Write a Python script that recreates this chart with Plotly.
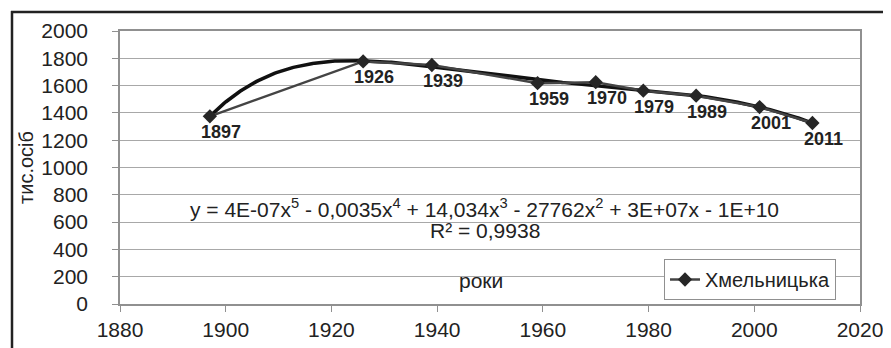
import numpy as np
import plotly.graph_objects as go

# Data
years = [1897, 1926, 1939, 1959, 1970, 1979, 1989, 2001, 2011]
population = [1375, 1777, 1751, 1618, 1625, 1563, 1526, 1443, 1326]
series_name = "Хмельницька"
y_title = "тис.осіб"
x_title = "роки"
equation = "y = 4E-07x<sup>5</sup> - 0,0035x<sup>4</sup> + 14,034x<sup>3</sup> - 27762x<sup>2</sup> + 3E+07x - 1E+10"
r2_text = "R² = 0,9938"

# Polynomial trendline (order 5) fitted to the data
xa = np.array(years, dtype=float)
ya = np.array(population, dtype=float)
xc = (xa - 1950.0) / 50.0
coef = np.polyfit(xc, ya, 5)
xt = np.linspace(min(years), max(years), 300)
yt = np.polyval(coef, (xt - 1950.0) / 50.0)

W, H = 891, 348
L, R, T, B = 112, 39, 23, 52
pw, ph = W - L - R, H - T - B

def px(x):
    return (x - L) / pw

def py(y):
    return (H - B - y) / ph

fig = go.Figure()
fig.add_trace(go.Scatter(
    x=xt, y=yt, mode="lines", line=dict(color="#111111", width=3.5),
    showlegend=False, hoverinfo="skip"))
fig.add_trace(go.Scatter(
    x=years, y=population, mode="lines+markers", name=series_name,
    line=dict(color="#444444", width=2.5),
    marker=dict(symbol="diamond", size=11, color="#262626")))

font_main = "Liberation Sans, Arial, sans-serif"
annotations = []
for yr, val in zip(years, population):
    annotations.append(dict(
        x=yr, y=val, xref="x", yref="y", text="<b>" + str(yr) + "</b>", showarrow=False,
        xshift=11, yshift=-16,
        font=dict(family=font_main, size=18, color="#222222")))
annotations.append(dict(
    x=1949, y=700, xref="x", yref="y", text=equation, showarrow=False,
    font=dict(family=font_main, size=21, color="#222222")))
annotations.append(dict(
    x=1949, y=540, xref="x", yref="y", text=r2_text, showarrow=False,
    font=dict(family=font_main, size=21, color="#222222")))
annotations.append(dict(
    x=1948.3, y=170, xref="x", yref="y", text=x_title, showarrow=False,
    font=dict(family=font_main, size=21, color="#222222")))

shapes = [
    dict(type="line", xref="paper", yref="paper", x0=px(3), x1=px(884), y0=py(4), y1=py(4),
         line=dict(color="#222222", width=2.5)),
    dict(type="line", xref="paper", yref="paper", x0=px(4), x1=px(4), y0=py(3), y1=py(348),
         line=dict(color="#222222", width=2.5)),
]

fig.update_layout(
    width=W, height=H,
    margin=dict(l=L, r=R, t=T, b=B),
    paper_bgcolor="white", plot_bgcolor="white",
    font=dict(family=font_main, size=21, color="#222222"),
    xaxis=dict(range=[1880, 2020], dtick=20, tick0=1880, showgrid=False,
               showline=True, linecolor="#909090", linewidth=1.5, mirror=True,
               ticks="outside", ticklen=6, tickcolor="#909090",
               tickfont=dict(size=21, color="#222222"), zeroline=False),
    yaxis=dict(range=[0, 2000], dtick=200, showgrid=True, gridcolor="#a8a8a8", gridwidth=1.2,
               showline=True, linecolor="#909090", linewidth=1.5, mirror=True,
               ticks="outside", ticklen=6, tickcolor="#909090", ticklabelstandoff=20,
               tickfont=dict(size=21, color="#222222"), zeroline=False,
               title=dict(text=y_title, font=dict(size=20, color="#222222"), standoff=2)),
    legend=dict(x=px(828), y=py(292), xanchor="right", yanchor="bottom",
                bgcolor="white", bordercolor="#909090", borderwidth=1,
                font=dict(size=20, color="#222222")),
    annotations=annotations,
    shapes=shapes,
)

fig.write_html("out.html")
